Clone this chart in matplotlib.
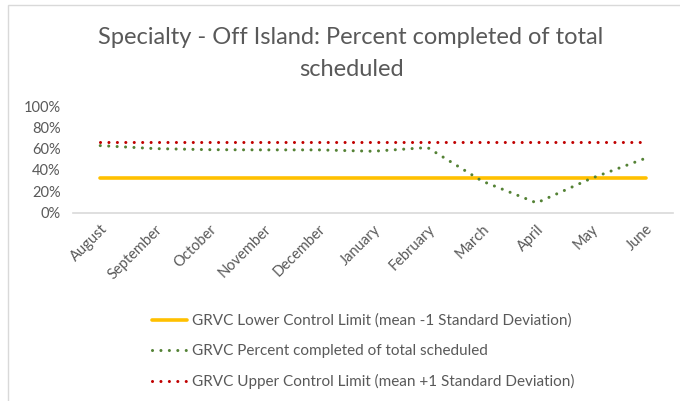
import numpy as np
import matplotlib.pyplot as plt
from matplotlib.patches import Rectangle
from matplotlib.ticker import PercentFormatter

months = ["August", "September", "October", "November", "December", "January",
          "February", "March", "April", "May", "June"]
percent_completed = [62.8, 60, 59, 58.8, 58.8, 57.5, 61, 29.5, 9, 32, 51]
lower_limit = [32.8] * len(months)
upper_limit = [66.6] * len(months)

plt.rcParams['font.family'] = ['Lato', 'DejaVu Sans']
txt = "#595959"

fig = plt.figure(figsize=(6.8, 4.01), dpi=100)
W, H = 680, 401
# plot area in pixels: x 73..673, y 106..212.5
ax = fig.add_axes([73 / W, 1 - 212.5 / H, 600 / W, 106.5 / H])

x = np.arange(len(months))
ax.plot(x, lower_limit, color="#FFC000", linewidth=2.6, solid_capstyle="round",
        label="GRVC Lower Control Limit (mean -1 Standard Deviation)")
ax.plot(x, percent_completed, color="#548235", linewidth=2.2,
        linestyle=(0, (0.01, 2.75)), dash_capstyle="round",
        label="GRVC Percent completed of total scheduled")
ax.plot(x, upper_limit, color="#C00000", linewidth=2.2,
        linestyle=(0, (0.01, 2.75)), dash_capstyle="round",
        label="GRVC Upper Control Limit (mean +1 Standard Deviation)")

ax.set_xlim(-0.5, len(months) - 0.5)
ax.set_ylim(0, 100)
ax.set_yticks(range(0, 101, 20))
ax.yaxis.set_major_formatter(PercentFormatter(decimals=0))
ax.set_xticks(x)
ax.set_xticklabels(months, rotation=45, ha="right", rotation_mode="anchor")
ax.tick_params(axis="both", length=0, labelsize=10.5, labelcolor=txt)
ax.tick_params(axis="x", pad=7)
ax.tick_params(axis="y", pad=9)
for s in ["top", "right", "left"]:
    ax.spines[s].set_visible(False)
ax.spines["bottom"].set_color("#D9D9D9")
ax.spines["bottom"].set_linewidth(1.2)

fig.text(351 / W, 1 - 38 / H, "Specialty - Off Island: Percent completed of total",
         ha="center", va="center", fontsize=17, color=txt)
fig.text(351 / W, 1 - 69 / H, "scheduled", ha="center", va="center",
         fontsize=17, color=txt)

leg = fig.legend(loc="upper left", bbox_to_anchor=(138 / W, 1 - 300 / H),
                 frameon=False, fontsize=11, labelcolor=txt,
                 handlelength=2.3, handletextpad=0.35, labelspacing=1.05)

fig.patches.append(Rectangle((8 / W, -0.01), 1.0, 1 - 5 / H + 0.01,
                             transform=fig.transFigure, fill=False,
                             edgecolor="#D9D9D9", linewidth=1))

fig.savefig("out.png", dpi=100)
